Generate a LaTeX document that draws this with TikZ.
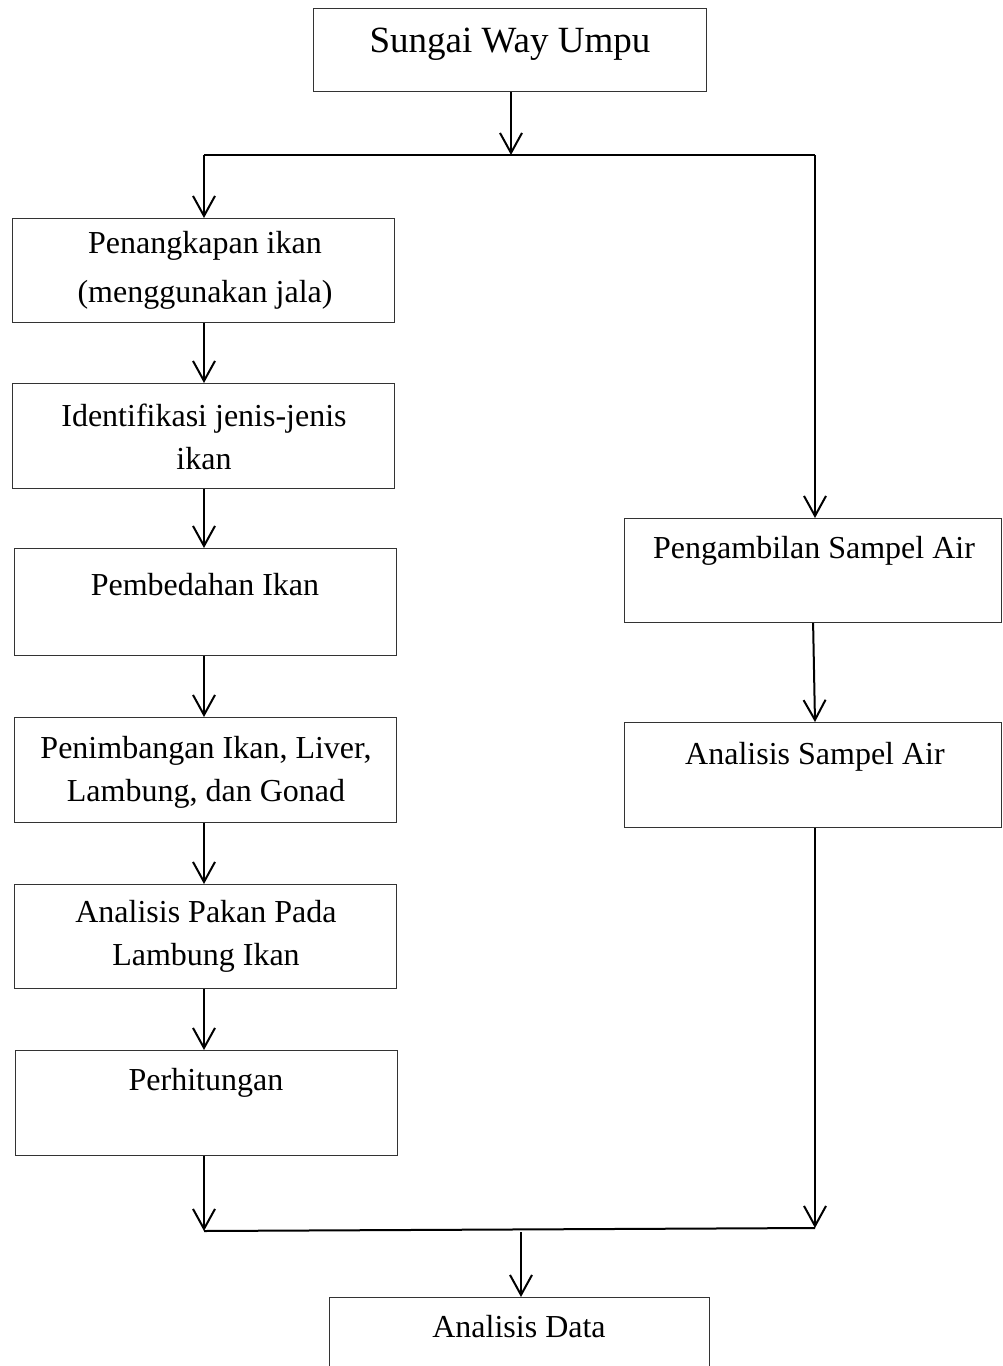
\documentclass[tikz,border=0pt]{standalone}
\usepackage{fontspec}
\setmainfont{Liberation Serif}
\usetikzlibrary{arrows.meta}
\begin{document}
\begin{tikzpicture}[x=1pt,y=-1pt,
  box/.style={draw=black!80, line width=1.2pt, inner sep=0pt, anchor=north west, minimum width=382pt},
  lbl/.style={font=\fontsize{32}{43}\selectfont, align=center, inner sep=0pt},
  arr/.style={line width=2pt, -{Straight Barb[length=20pt,width=22pt,line width=2pt]}},
  ln/.style={line width=2pt}]
\useasboundingbox (0,0) rectangle (1002,1366);
% boxes
\node[box, minimum width=393pt, minimum height=83pt] (top) at (313,8) {};
\node[box, minimum height=104pt] (b1) at (12,218) {};
\node[box, minimum height=105pt] (b2) at (12,383) {};
\node[box, minimum height=107pt] (b3) at (14,548) {};
\node[box, minimum height=105pt] (b4) at (14,717) {};
\node[box, minimum height=104pt] (b5) at (14,884) {};
\node[box, minimum height=105pt] (b6) at (15,1050) {};
\node[box, minimum width=377pt, minimum height=104pt] (r1) at (624,518) {};
\node[box, minimum width=377pt, minimum height=105pt] (r2) at (624,722) {};
\node[box, minimum width=380pt, minimum height=90pt] (bd) at (329,1297) {};
% texts
\node[lbl, font=\fontsize{37}{44}\selectfont] (ttop) at (510,44) {Sungai Way Umpu};
\node[lbl] (t1) at (205,270) {Penangkapan ikan\\[6pt](menggunakan jala)};
\node[lbl] (t2) at (204,437) {Identifikasi jenis-jenis\\ikan};
\node[lbl] (t3) at (205,585) {Pembedahan Ikan};
\node[lbl] (t4) at (206,772) {Penimbangan Ikan, Liver,\\Lambung, dan Gonad};
\node[lbl] (t5) at (206,936) {Analisis Pakan Pada\\Lambung Ikan};
\node[lbl] (t6) at (206,1083) {Perhitungan};
\node[lbl] (tr1) at (814,551) {Pengambilan Sampel Air};
\node[lbl] (tr2) at (815,757) {Analisis Sampel Air};
\node[lbl] (td) at (519,1327) {Analisis Data};
% junctions
\coordinate (j1) at (511,155);
\coordinate (jl) at (204,155);
\coordinate (jr) at (815,155);
\coordinate (kl) at (204,1231);
\coordinate (kr) at (815,1228);
\coordinate (km) at (521,1232);
% connectors
\draw[arr] (top.south -| j1) -- (j1);
\draw[ln] (jl) -- (jr);
\draw[arr] (jl) -- (b1.north -| jl);
\draw[arr] (b1.south -| jl) -- (b2.north -| jl);
\draw[arr] (b2.south -| jl) -- (b3.north -| jl);
\draw[arr] (b3.south -| jl) -- (b4.north -| jl);
\draw[arr] (b4.south -| jl) -- (b5.north -| jl);
\draw[arr] (b5.south -| jl) -- (b6.north -| jl);
\draw[arr] (b6.south -| jl) -- (kl);
\draw[arr] (jr) -- (r1.north -| jr);
\draw[arr] (r1.south) -- (r2.north -| jr);
\draw[arr] (r2.south -| kr) -- (kr);
\draw[ln] (kl) -- (kr);
\draw[arr] (km) -- (bd.north -| km);
\end{tikzpicture}
\end{document}
